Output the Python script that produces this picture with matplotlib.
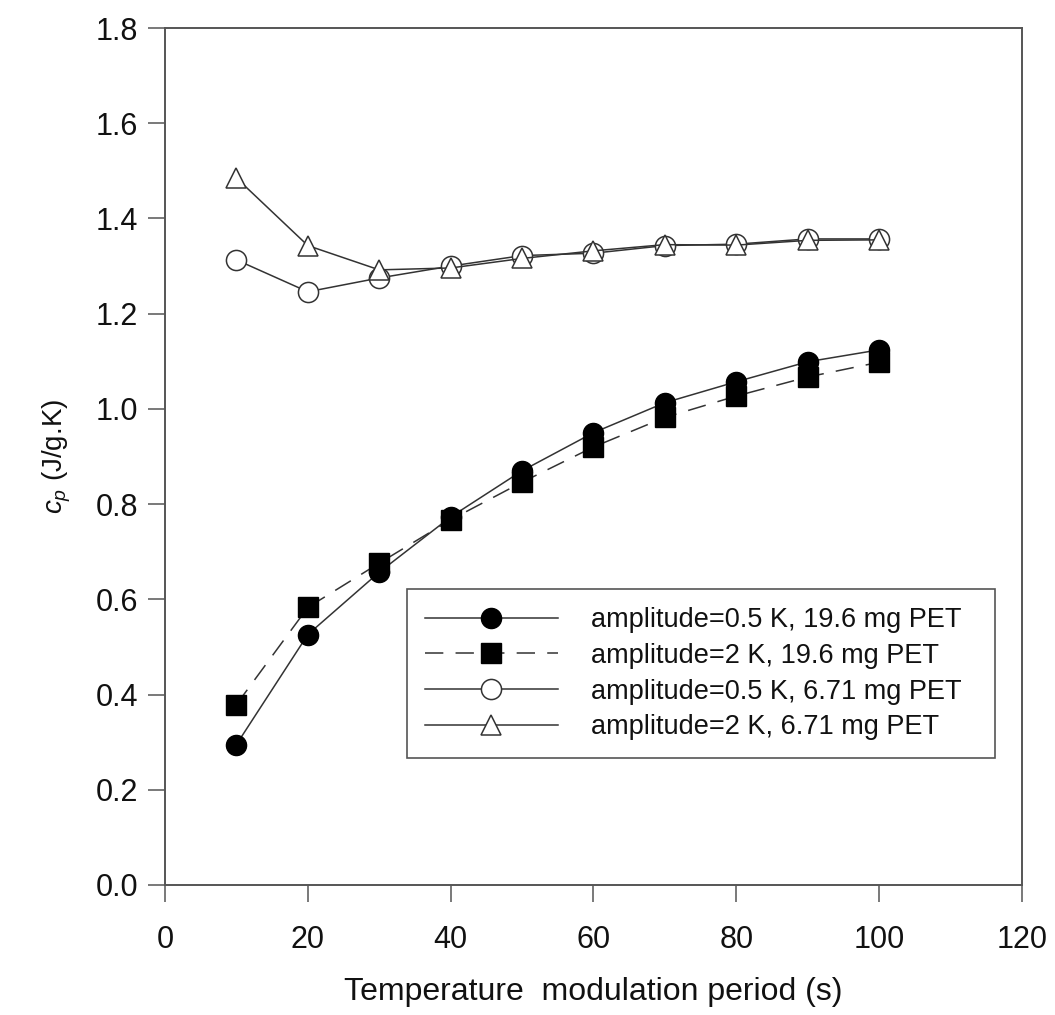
import matplotlib
matplotlib.use("Agg")
import matplotlib.pyplot as plt

plt.rcParams['font.family'] = ['Liberation Sans', 'DejaVu Sans']
plt.rcParams['mathtext.fontset'] = 'custom'
plt.rcParams['mathtext.it'] = 'Liberation Sans:italic'
plt.rcParams['mathtext.rm'] = 'Liberation Sans'

# Temperature modulation period (s)
period = [10, 20, 30, 40, 50, 60, 70, 80, 90, 100]

# Heat capacity cp (J/g.K)
cp_a05_196 = [0.295, 0.526, 0.657, 0.773, 0.870, 0.950, 1.013, 1.057, 1.099, 1.124]
cp_a2_196 = [0.379, 0.583, 0.676, 0.767, 0.846, 0.920, 0.982, 1.027, 1.067, 1.098]
cp_a05_671 = [1.313, 1.246, 1.275, 1.300, 1.322, 1.327, 1.343, 1.346, 1.357, 1.357]
cp_a2_671 = [1.485, 1.343, 1.292, 1.296, 1.316, 1.332, 1.345, 1.344, 1.354, 1.355]

labels = ["amplitude=0.5 K, 19.6 mg PET",
          "amplitude=2 K, 19.6 mg PET",
          "amplitude=0.5 K, 6.71 mg PET",
          "amplitude=2 K, 6.71 mg PET"]

x_ticks = [0, 20, 40, 60, 80, 100, 120]
y_ticks = [0.0, 0.2, 0.4, 0.6, 0.8, 1.0, 1.2, 1.4, 1.6, 1.8]

fig = plt.figure(figsize=(10.55, 10.15), dpi=100)
ax = fig.add_axes([0.1564, 0.1281, 0.8123, 0.8443])

line_col = '#333333'
lw = 1.1
ms = 14.5

ax.plot(period, cp_a05_196, color=line_col, lw=lw, marker='o', ms=ms,
        mfc='black', mec='black', label=labels[0], zorder=3)
ax.plot(period, cp_a2_196, color=line_col, lw=lw, ls=(0, (12, 8)), marker='s',
        ms=ms - 0.8, mfc='black', mec='black', label=labels[1], zorder=3)
ax.plot(period, cp_a05_671, color=line_col, lw=lw, marker='o', ms=ms,
        mfc='white', mec=line_col, mew=1.1, label=labels[2], zorder=3)
ax.plot(period, cp_a2_671, color=line_col, lw=lw, marker='^', ms=ms,
        mfc='white', mec=line_col, mew=1.1, label=labels[3], zorder=4)

ax.set_xlim(0, 120)
ax.set_ylim(0, 1.8)
ax.set_xticks(x_ticks)
ax.set_yticks(y_ticks)
ax.set_xticklabels([str(v) for v in x_ticks])
ax.set_yticklabels([f"{v:.1f}" for v in y_ticks])

for s in ax.spines.values():
    s.set_color('#555555')
    s.set_linewidth(1.4)

ax.tick_params(axis='both', direction='out', length=12.5, width=1.1,
               color='#555555', labelsize=22, labelcolor='#111111')
ax.tick_params(axis='x', pad=16)
ax.tick_params(axis='y', pad=7)
ax.tick_params(top=False, right=False)

ax.set_xlabel("Temperature  modulation period (s)", fontsize=23,
              color='#111111', labelpad=16)
ax.set_ylabel("$c_p$ (J/g.K)", fontsize=20, color='#111111', labelpad=16)

leg = ax.legend(loc='lower left', bbox_to_anchor=(0.2824, 0.148, 0.6861, 0.202),
                mode='expand', borderaxespad=0, fontsize=19.5, handlelength=4.9,
                handletextpad=1.25, labelspacing=0.36, borderpad=0.66,
                fancybox=False, framealpha=1, edgecolor='#555555')
leg.get_frame().set_linewidth(1.2)
for t in leg.get_texts():
    t.set_color('#111111')

fig.savefig("out.png", dpi=100, facecolor='white')
